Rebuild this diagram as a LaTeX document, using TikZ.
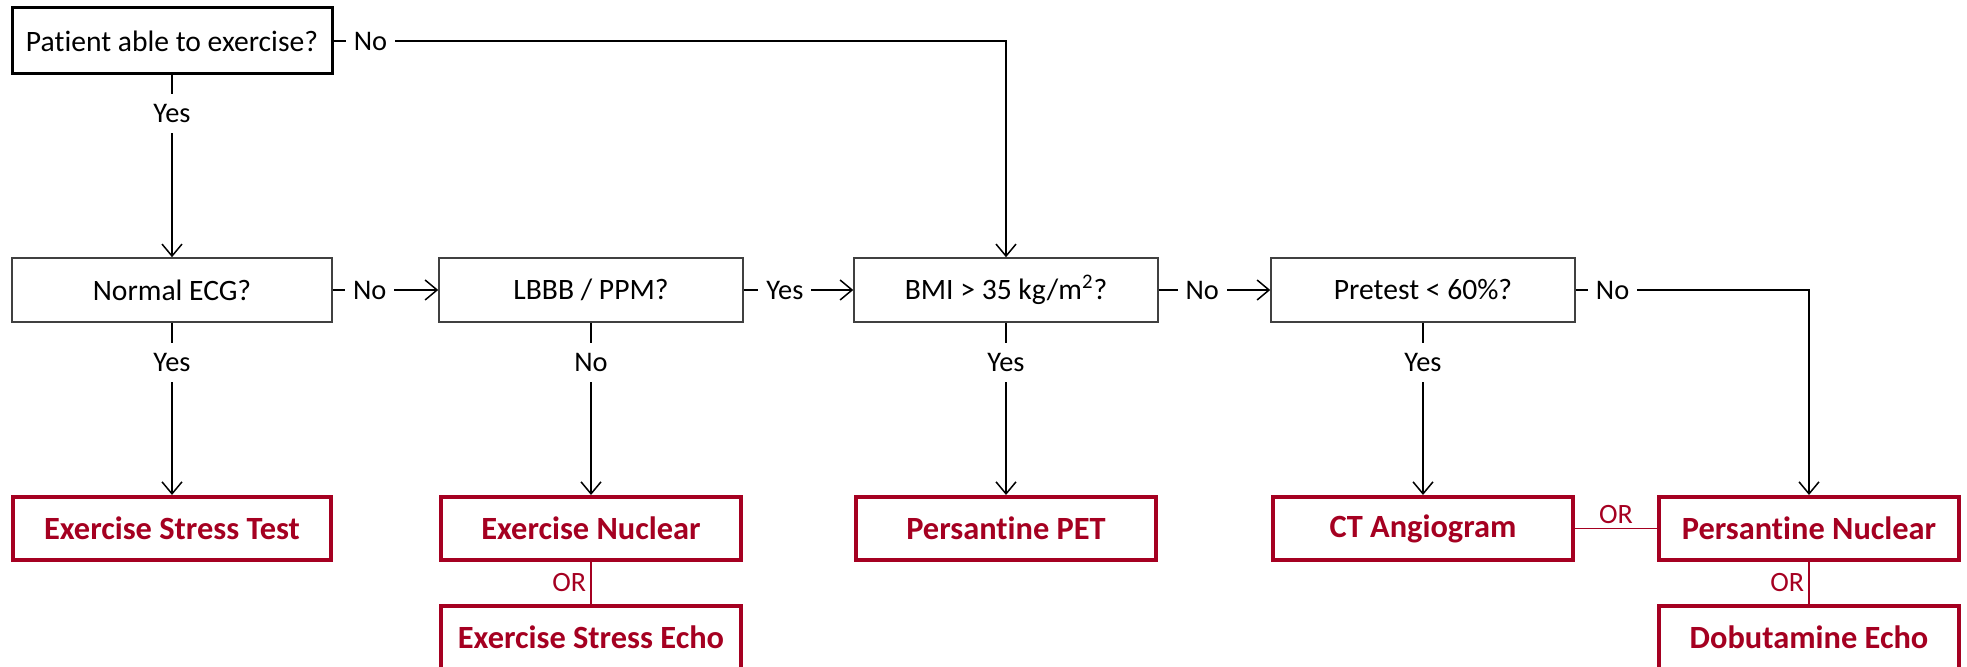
\documentclass[tikz,border=0pt]{standalone}
\usepackage{fontspec}
\setmainfont{Carlito}[Ligatures={CommonOff, ContextualOff}]
\usetikzlibrary{arrows.meta, calc, positioning}
\definecolor{testRed}{RGB}{165,0,33}
\tikzset{
    askNode/.style={rectangle, draw=black!75, line width=0.75pt, fill=white, minimum width=152pt, minimum height=32pt, font=\fontsize{14.8}{17}\selectfont},
    askNodeTop/.style={askNode, draw=black, line width=1.5pt},
    testNode/.style={rectangle, draw=testRed, line width=2pt, fill=white, text=testRed, minimum width=150pt, minimum height=31.5pt, font=\fontsize{16.2}{19}\selectfont\bfseries},
    flowEdge/.style={-{Straight Barb[length=6pt, width=10pt]}, line width=0.75pt},
    flowLabel/.style={fill=white, inner xsep=4pt, inner ysep=5pt, font=\fontsize{14.2}{16}\selectfont},
    orEdge/.style={draw=testRed, line width=0.9pt},
    orLabel/.style={text=testRed, inner sep=2pt, font=\fontsize{14}{16}\selectfont},
}
\newcommand{\drawFlow}[4]{
    \draw[flowEdge] (#1) -- node[flowLabel, pos=#4] {#3} (#2);
}
\newcommand{\drawOr}[3]{
    \draw[orEdge] (#1) -- node[orLabel, #3] {OR} (#2);
}

\begin{document}
\begin{tikzpicture}[x=0.5pt, y=-0.5pt]
        \useasboundingbox (0,0) rectangle (1967,667);
        \clip (0,0) rectangle (1967,667);

        % questions
        \node[askNodeTop, minimum width=160pt, minimum height=33pt] (able) at (172,41) {Patient able to exercise?};
        \node[askNode, minimum width=160pt] (ecg) at (172,290) {Normal ECG?};
        \node[askNode] (lbbb) at (591,290) {LBBB / PPM?};
        \node[askNode] (bmi) at (1006,290) {BMI > 35 kg/m\textsuperscript{2}?};
        \node[askNode] (pretest) at (1423,290) {Pretest < 60\%?};

        % tests
        \node[testNode, minimum width=159pt] (est) at (172,528.5) {Exercise Stress Test};
        \node[testNode] (exnuc) at (591,528.5) {Exercise Nuclear};
        \node[testNode] (pet) at (1006,528.5) {Persantine PET};
        \node[testNode] (cta) at (1423,528.5) {CT Angiogram};
        \node[testNode] (pnuc) at (1809,528.5) {Persantine Nuclear};
        \node[testNode] (execho) at (591,637.5) {Exercise Stress Echo};
        \node[testNode] (dobecho) at (1809,637.5) {Dobutamine Echo};

        \drawFlow{able}{ecg}{Yes}{0.21}
        \drawFlow{ecg}{lbbb}{No}{0.35}
        \drawFlow{lbbb}{bmi}{Yes}{0.375}
        \drawFlow{bmi}{pretest}{No}{0.39}
        \drawFlow{ecg}{est}{Yes}{0.23}
        \drawFlow{lbbb}{exnuc}{No}{0.23}
        \drawFlow{bmi}{pet}{Yes}{0.23}
        \drawFlow{pretest}{cta}{Yes}{0.23}
        \draw[flowEdge] (able.east) -- node[flowLabel, pos=0.055] {No} (able.east -| bmi.north) -- (bmi.north);
        \draw[flowEdge] (pretest.east) -- node[flowLabel, pos=0.158] {No} (pretest.east -| pnuc.north) -- (pnuc.north);

        \drawOr{exnuc}{execho}{left}
        \drawOr{cta}{pnuc}{above}
        \drawOr{pnuc}{dobecho}{left}

    \end{tikzpicture}
\end{document}
